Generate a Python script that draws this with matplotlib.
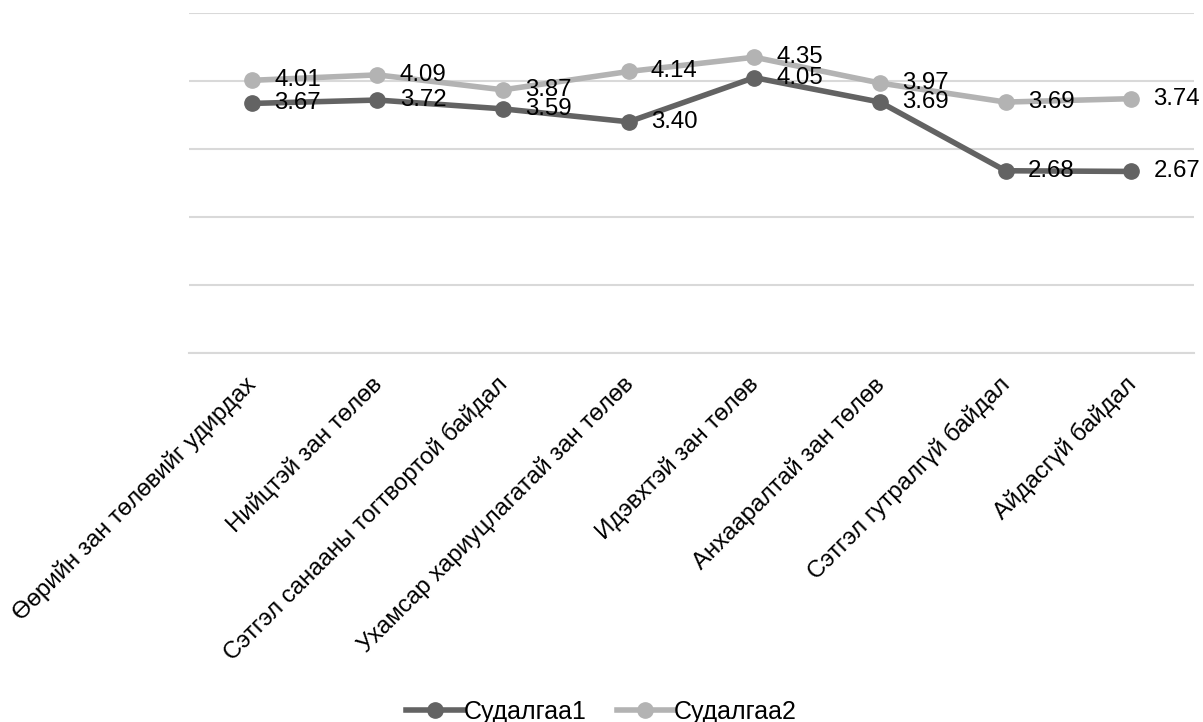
import matplotlib
matplotlib.use("Agg")
import matplotlib.pyplot as plt
import matplotlib.transforms as mtransforms

categories = ["Өөрийн зан төлөвийг удирдах", "Нийцтэй зан төлөв",
              "Сэтгэл санааны тогтвортой байдал", "Ухамсар хариуцлагатай зан төлөв",
              "Идэвхтэй зан төлөв", "Анхааралтай зан төлөв",
              "Сэтгэл гутралгүй байдал", "Айдасгүй байдал"]
series1 = [3.67, 3.72, 3.59, 3.40, 4.05, 3.69, 2.68, 2.67]
series2 = [4.01, 4.09, 3.87, 4.14, 4.35, 3.97, 3.69, 3.74]
names = ["Судалгаа1", "Судалгаа2"]

plt.rcParams['font.family'] = ['Liberation Sans', 'DejaVu Sans']
FS = 17.3

fig = plt.figure(figsize=(12.03, 7.22), dpi=100)
ax = fig.add_axes([189/1203, 1-353/722, (1194-189)/1203, (353-13)/722])

x = list(range(len(categories)))
c1 = "#636363"
c2 = "#b3b3b3"
ax.plot(x, series2, color=c2, lw=4, marker='o', ms=11, label=names[1], zorder=3)
ax.plot(x, series1, color=c1, lw=4, marker='o', ms=11, label=names[0], zorder=4)

for xi, v in zip(x, series2):
    ax.annotate(f"{v:.2f}", (xi, v), xytext=(16, 0), textcoords='offset points',
                ha='left', va='center', fontsize=FS, color='black', zorder=5)
for xi, v in zip(x, series1):
    ax.annotate(f"{v:.2f}", (xi, v), xytext=(16, 0), textcoords='offset points',
                ha='left', va='center', fontsize=FS, color='black', zorder=5)

ax.set_xlim(-0.5, 7.5)
ax.set_ylim(0, 5)
ax.set_yticks([0, 1, 2, 3, 4, 5])
ax.set_yticklabels([])
ax.yaxis.grid(True, color='#d9d9d9', lw=1.5)
ax.set_axisbelow(True)
ax.tick_params(axis='y', length=0)
ax.tick_params(axis='x', length=0)
for s in ['top', 'right', 'left']:
    ax.spines[s].set_visible(False)
ax.spines['bottom'].set_color('#d9d9d9')
ax.spines['bottom'].set_linewidth(1.5)

ax.set_xticks(x)
ax.set_xticklabels(categories, rotation=45, ha='right', va='top',
                   rotation_mode='anchor', fontsize=FS)
offset = mtransforms.ScaledTranslation(-0.07, -0.15, fig.dpi_scale_trans)
for lab in ax.get_xticklabels():
    lab.set_transform(lab.get_transform() + offset)

handles, labels = ax.get_legend_handles_labels()
order = [1, 0]
fig.legend([handles[i] for i in order], [labels[i] for i in order],
           loc='center', bbox_to_anchor=(0.5, 1-712/722), ncol=2, frameon=False,
           fontsize=18, handlelength=2.3, handletextpad=0.0, columnspacing=1.2)

fig.savefig("out.png", dpi=100)
